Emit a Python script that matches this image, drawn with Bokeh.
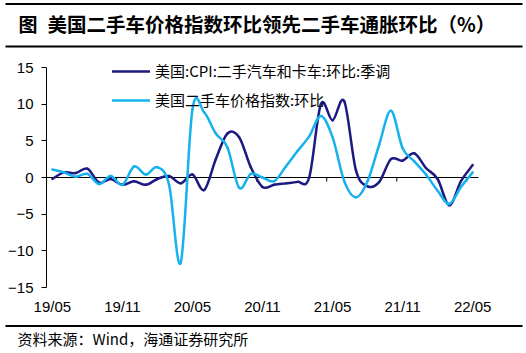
from bokeh.plotting import figure
from bokeh.models import Range1d, FixedTicker, Legend, LegendItem, ColumnDataSource
from bokeh.embed import file_html
from bokeh.resources import INLINE
from bokeh.core.properties import value

# ---------------- data ----------------
months = ["19/05", "19/06", "19/07", "19/08", "19/09", "19/10", "19/11", "19/12",
          "20/01", "20/02", "20/03", "20/04", "20/05", "20/06", "20/07", "20/08",
          "20/09", "20/10", "20/11", "20/12", "21/01", "21/02", "21/03", "21/04",
          "21/05", "21/06", "21/07", "21/08", "21/09", "21/10", "21/11", "21/12",
          "22/01", "22/02", "22/03", "22/04", "22/05"]

# US CPI: used cars and trucks, MoM, SA (%)
cpi_used = [-0.2, 0.7, 0.6, 1.2, -0.7, -0.2, -1.0, -0.5,
            -1.0, -0.2, 0.2, -0.8, 0.4, -1.7, 2.5, 6.0,
            5.5, 1.4, -1.3, -1.0, -0.8, -0.6, 0.0, 10.0,
            7.8, 10.4, 1.0, -1.2, -0.6, 2.5, 2.3, 3.3,
            1.3, -0.2, -3.8, -0.5, 1.7]

# US used vehicle value index, MoM (%)
used_index = [1.1, 0.7, 0.1, 0.5, -0.9, 0.2, -1.0, 1.5,
              0.4, 1.4, -1.0, -11.6, 9.3, 8.9, 6.0, 4.1,
              -1.4, 0.5, 0.0, -0.5, 1.5, 3.6, 5.6, 8.4,
              5.5, -0.5, -2.7, -0.5, 4.5, 9.1, 4.0, 2.2,
              0.4, -1.8, -3.6, -1.3, 0.7]

tick_labels = ["19/05", "19/11", "20/05", "20/11", "21/05", "21/11", "22/05"]
y_ticks = [-15, -10, -5, 0, 5, 10, 15]

name_cpi = "美国:CPI:二手汽车和卡车:环比:季调"
name_idx = "美国二手车价格指数:环比"
title_tag = "图"
title_text = "美国二手车价格指数环比领先二手车通胀环比（%）"
source_text = "资料来源：Wind，海通证券研究所"

# ---------------- layout / style ----------------
DARK = "#1c1a80"
LIGHT = "#16b2ee"
W, H = 526, 353
PL, PR, PT, PB = 46, 478, 67, 287   # plot-area edges in page pixels
CJK = "Noto Sans CJK SC"

n = len(months)
ymin, ymax = y_ticks[0], y_ticks[-1]
ux = (PR - PL) / n              # px per month slot
uy = (PB - PT) / (ymax - ymin)  # px per percentage point


def smooth_segments(xs, ys):
    """Bezier segments between the data points (Excel-like smoothed line)."""
    m = len(xs)
    d = dict(x0=[], y0=[], x1=[], y1=[], cx0=[], cy0=[], cx1=[], cy1=[])
    for i in range(m - 1):
        im = max(i - 1, 0)
        ip = min(i + 2, m - 1)
        d["x0"].append(xs[i]); d["y0"].append(ys[i])
        d["x1"].append(xs[i + 1]); d["y1"].append(ys[i + 1])
        d["cx0"].append(xs[i] + (xs[i + 1] - xs[im]) / 6.0)
        d["cy0"].append(ys[i] + (ys[i + 1] - ys[im]) / 6.0)
        d["cx1"].append(xs[i + 1] - (xs[ip] - xs[i]) / 6.0)
        d["cy1"].append(ys[i + 1] - (ys[ip] - ys[i]) / 6.0)
    return ColumnDataSource(d)


xpos = [i + 0.5 for i in range(n)]

# the frame covers the whole page; axes are pinned with fixed_location
p = figure(width=W, height=H,
           x_range=Range1d(0 - PL / ux, n + (W - PR) / ux),
           y_range=Range1d(ymin - (H - PB) / uy, ymax + PT / uy),
           output_backend="svg", toolbar_location=None, min_border=0,
           outline_line_color=None, background_fill_color="white", border_fill_color="white")
p.grid.visible = False

# x axis: labels only, centred on their month slot, sitting under the plot area
p.xaxis.fixed_location = ymin
p.xaxis.bounds = (0, n)
p.xaxis.ticker = FixedTicker(ticks=[months.index(t) + 0.5 for t in tick_labels])
p.xaxis.major_label_overrides = {months.index(t) + 0.5: t for t in tick_labels}
p.xaxis.axis_line_color = None
p.xaxis.major_tick_line_color = None
p.xaxis.minor_tick_line_color = None
p.xaxis.major_tick_out = 0
p.xaxis.major_tick_in = 0
p.xaxis.major_label_standoff = 10
p.xaxis.major_label_text_font = "Liberation Sans"
p.xaxis.major_label_text_font_size = "15px"
p.xaxis.major_label_text_color = "black"

# y axis
p.yaxis.fixed_location = 0
p.yaxis.bounds = (ymin, ymax)
p.yaxis.ticker = FixedTicker(ticks=y_ticks)
p.yaxis.axis_line_color = "black"
p.yaxis.major_tick_line_color = "black"
p.yaxis.minor_tick_line_color = None
p.yaxis.major_tick_out = 5
p.yaxis.major_tick_in = 0
p.yaxis.major_label_standoff = 8
p.yaxis.major_label_text_font = "Liberation Sans"
p.yaxis.major_label_text_font_size = "15px"
p.yaxis.major_label_text_color = "black"

# zero line with half-year boundary ticks
p.segment(x0=[0], y0=[0], x1=[n], y1=[0], line_color="black", line_width=1)
tick_len = 4 / uy
bounds = [months.index(t) for t in tick_labels]
p.segment(x0=bounds, y0=[0] * len(bounds), x1=bounds, y1=[-tick_len] * len(bounds),
          line_color="black", line_width=1)

r_dark = p.bezier(x0="x0", y0="y0", x1="x1", y1="y1", cx0="cx0", cy0="cy0", cx1="cx1", cy1="cy1",
                  source=smooth_segments(xpos, cpi_used), line_color=DARK, line_width=2.5,
                  line_cap="round")
r_light = p.bezier(x0="x0", y0="y0", x1="x1", y1="y1", cx0="cx0", cy0="cy0", cx1="cx1", cy1="cy1",
                   source=smooth_segments(xpos, used_index), line_color=LIGHT, line_width=2.5,
                   line_cap="round")

legend = Legend(items=[LegendItem(label=name_cpi, renderers=[r_dark]),
                       LegendItem(label=name_idx, renderers=[r_light])],
                location=(112, 243), orientation="vertical",
                glyph_width=38, glyph_height=20, label_height=20, spacing=8,
                label_standoff=5, padding=0, margin=0,
                background_fill_alpha=0, border_line_color=None,
                label_text_font=CJK, label_text_font_size="15px",
                label_text_color="black")
p.add_layout(legend)

# ---------------- page decorations, in the main data coordinates ----------------
def px_x(v):
    return (v - PL) / ux


def px_y(v):
    return ymax - (v - PT) / uy


rule_rows = (3.5, 46, 325.5)
p.segment(x0=[px_x(5)] * 3, x1=[px_x(522)] * 3,
          y0=[px_y(r) for r in rule_rows], y1=[px_y(r) for r in rule_rows],
          line_color="black", line_width=2)
p.text(x=[px_x(18)], y=[px_y(23)], text=[title_tag], text_font=value(CJK), text_font_size="19px",
       text_font_style="bold", text_baseline="middle", text_color="black")
p.text(x=[px_x(47)], y=[px_y(23)], text=[title_text], text_font=value(CJK), text_font_size="19.5px",
       text_font_style="bold", text_baseline="middle", text_color="black")
p.text(x=[px_x(17)], y=[px_y(338)], text=[source_text], text_font=value(CJK), text_font_size="15px",
       text_baseline="middle", text_color="black")

open("out.html", "w").write(file_html(p, INLINE))
